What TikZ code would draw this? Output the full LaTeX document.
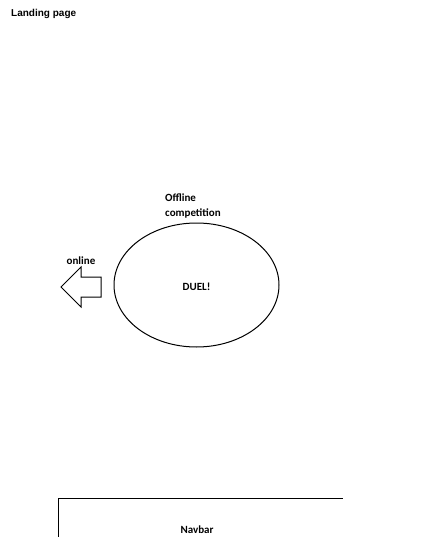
\documentclass[tikz,border=0pt]{standalone}
\usepackage{fontspec}
\setmainfont{Carlito}
\newfontfamily\arialfont{Liberation Sans}
\usetikzlibrary{shapes.geometric}
\begin{document}
\begin{tikzpicture}[x=1pt,y=-1pt,
  lbl/.style={font=\bfseries\fontsize{11}{15}\selectfont, inner sep=0pt},
  outl/.style={draw=black, line width=1pt}]
\useasboundingbox[fill=white] (0,0) rectangle (423,537);
\node[inner sep=0pt, anchor=west, font=\arialfont\bfseries\fontsize{10}{12}\selectfont] (title) at (11,14) {Landing page};
\node[outl, ellipse, minimum width=165pt, minimum height=124pt, inner sep=0pt] (duel) at (196.5,285) {};
\node[lbl] (dueltxt) at (196.5,287) {DUEL!};
\node[lbl, anchor=west, align=left] (offline) at (165,206.5) {Offline\\competition};
\node[lbl] (online) at (81,261) {online};
\draw[outl, line join=miter] (61,287) coordinate (tip) -- (81,267) -- (81,277) -- (101,277) -- (101,297) -- (81,297) -- (81,307) -- cycle;
\coordinate (nbl) at (58,537);
\coordinate (nbr) at (343,498);
\draw[outl] (nbl) |- (nbr);
\node[lbl] (navbar) at (197,530) {Navbar};
\end{tikzpicture}
\end{document}
